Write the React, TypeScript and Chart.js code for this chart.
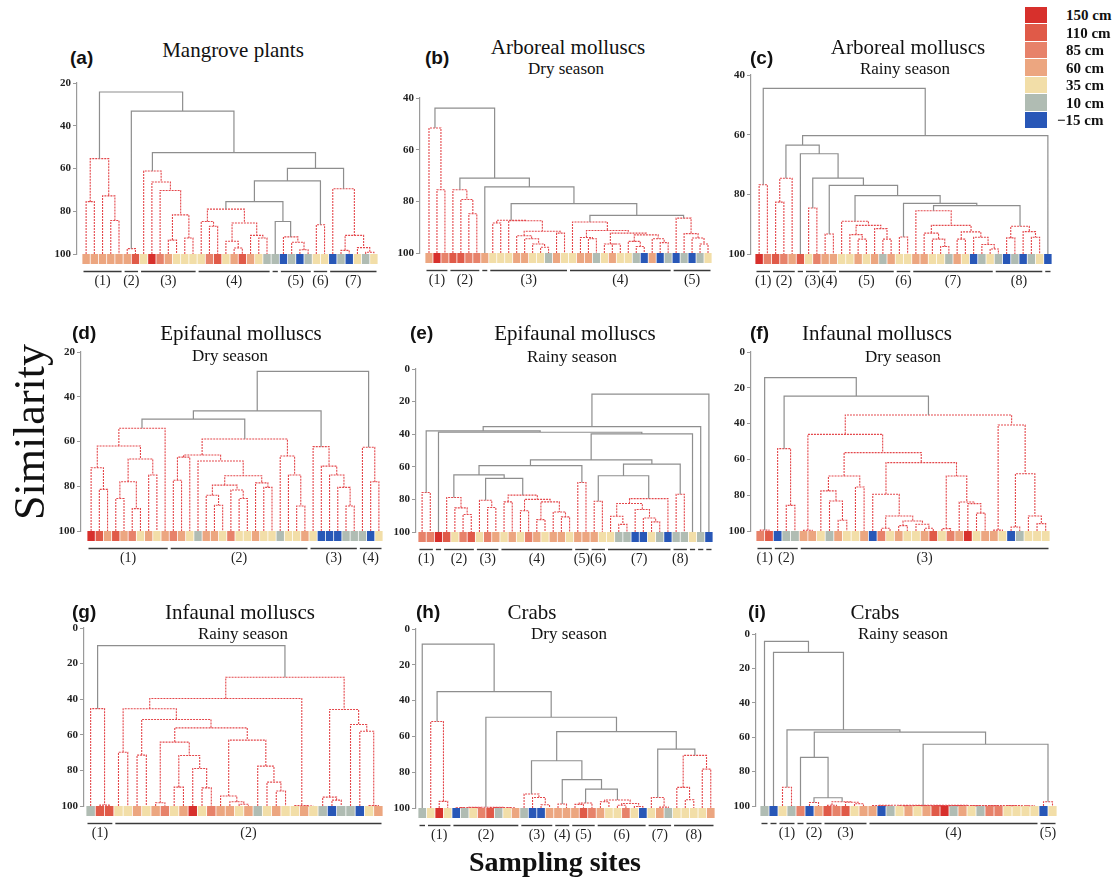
import React, { useEffect, useRef } from 'react';
import { Chart, registerables } from 'chart.js';

Chart.register(...registerables);

const R = 1;
const G = 0;

const legendLabels = ['150 cm', '110 cm', '85 cm', '60 cm', '35 cm', '10 cm', '\u221215 cm'];
const legendColors = ['#d7302c', '#e05a48', '#e7826a', '#eca680', '#f2dea8', '#b0bcb3', '#2857b7'];

const tickMinA = 20, tickMinB = 40, tickMinC = 40, tickMinD = 20, tickMinE = 0, tickMinF = 0, tickMinG = 0, tickMinH = 0, tickMinI = 0;

// (a) Mangrove plants
const leavesA = [3,3,3,3,3,3,1,4,0,2,3,4,4,4,4,2,1,4,3,1,3,4,5,5,6,5,6,5,4,4,6,5,6,4,5,4];
const treeA = [24.2, G,
  [55.4, R, [75.5, R, 1, 2], [72.8, R, 3, [84.3, R, 4, 5]]],
  [33.2, G, [97.5, R, 6, 7],
    [52.6, G,
      [61.2, R, 8, [66.3, R, 9, [70.3, R, 10, [81.7, R, [93.5, R, 11, 12], [92.5, R, 13, 14]]]]],
      [59.9, G,
        [65.8, G,
          [75.5, G,
            [79, R, [84.8, R, 15, [87, R, 16, 17]], [85.5, R, [94, R, 18, [97.2, R, 19, 20]], [91.3, R, 21, [92.5, R, 22, 23]]]],
            [84.8, G, 24, [92, R, 25, [94.5, R, 26, [98, R, 27, 28]]]]],
          [86.3, R, 29, 30]],
        [69.5, R, 31, [91.3, R, [98.3, R, 32, 33], [97, R, 34, [99.2, R, 35, 36]]]]]]]];
const groupsA = [[1,5,'(1)'],[6,7,'(2)'],[8,14,'(3)'],[15,23,'(4)'],[24,24,''],[25,28,'(5)'],[29,30,'(6)'],[31,36,'(7)']];

// (b) Arboreal molluscs, dry season
const leavesB = [3,0,2,1,1,2,2,3, 4,4,4,3,3,4,4,5,3,4, 4,3,3,5,4,3,4,4,5,6,3,6,5, 6,5,6,5,4];
const treeB = [43.9, G,
  [51.6, R, 1, [75.5, R, 2, 3]],
  [71, G,
    [75.5, R, 4, [79.3, R, 5, [84.8, R, 6, 7]]],
    [74.4, G, 8,
      [80.9, G,
        [87.3, R, [88.4, R, 9, 10], [87.5, R, 11, [91.6, R, [93.3, R, 12, [94.5, R, 13, [96.5, R, 14, [97.8, R, 15, 16]]]], [92.3, R, 17, 18]]]],
        [85.4, G,
          [88, R, 19, [91.3, R, [94, R, 20, [94.5, R, 21, 22]], [92.3, R, [96.5, R, 23, [96.5, R, 24, 25]], [93, R, [95.5, R, 26, [97.5, R, 27, 28]], [94.5, R, 29, [96, R, 30, 31]]]]]],
          [86.5, R, 32, [92.5, R, 33, [94.2, R, 34, [96.5, R, 35, 36]]]]]]]]];
const groupsB = [[1,3,'(1)'],[4,7,'(2)'],[8,8,''],[9,18,'(3)'],[19,31,'(4)'],[32,36,'(5)']];

// (c) Arboreal molluscs, rainy season
const leavesC = [0,2,1,2,3,1,4,2,3,3,4,4,3,4,3,5,3,4,4,3,3,4,4,5,3,4,6,5,4,5,6,5,6,5,4,6];
const treeC = [44.5, G,
  [76.8, R, 1, 2],
  [60.3, G,
    [63.5, G,
      [74.6, R, [82.6, R, 3, 4], 5],
      [66.4, G, 6,
        [74.6, G,
          [84.6, R, 7, 8],
          [77, G,
            [93.3, R, 9, 10],
            [80.4, G,
              [89, R, 11, [90.4, R, [93.5, R, 12, [95, R, 13, 14]], [91.5, R, 15, [95, R, 16, 17]]]],
              [83, G,
                [94.3, R, 18, 19],
                [83.8, G,
                  [85.5, R, 20, [90.4, R, [93, R, 21, [95, R, 22, [97.5, R, 23, 24]]], [92.6, R, [95, R, 25, 26], [94.4, R, 27, [96.8, R, 28, [98.3, R, 29, 30]]]]]],
                  [90.7, R, [94.6, R, 31, 32], [92.5, R, 33, [94.4, R, 34, 35]]]]]]]]]],
    36]];
const groupsC = [[1,2,'(1)'],[3,5,'(2)'],[6,6,''],[7,8,'(3)'],[9,10,'(4)'],[11,17,'(5)'],[18,19,'(6)'],[20,29,'(7)'],[30,35,'(8)'],[36,36,'']];

// (d) Epifaunal molluscs, dry season
const leavesD = [0,1,3,1,3,2,4,3,4,3, 2,3,4,5,3,3,4,2,4,4,3,4,4,5,4,4,3, 4,6,6,6,5,5, 5,6,4];
const treeD = [28.7, G,
  [46.3, G,
    [50, G,
      [54.1, R, [62, R, [71.7, R, 1, [81.4, R, 2, 3]], [67.8, R, [78, R, [85.5, R, 4, 5], [90, R, 6, 7]], [75, R, 8, 9]]], 10],
      [58.9, R,
        [66, R, [67, R, [77.3, R, 11, 12], 13], [68.7, R, 14, [75.3, R, [79.5, R, [84, R, 15, [88.5, R, 16, 17]], [81.7, R, 18, [85.5, R, 19, 20]]], [78.5, R, 21, [80.5, R, 22, 23]]]]],
        [66.5, R, 24, [75, R, 25, [88.8, R, 26, 27]]]]],
    [62.3, R, 28, [71, R, 29, [75, R, 30, [80.5, R, 31, [88.8, R, 32, 33]]]]]],
  [62.6, R, 34, [78, R, 35, 36]]];
const groupsD = [[1,10,'(1)'],[11,27,'(2)'],[28,33,'(3)'],[34,36,'(4)']];

// (e) Epifaunal molluscs, rainy season
const leavesE = [2,2,0,1,4,2,1,4,2,3, 4,3,4,2,3,4,3,3,4, 3,3, 3,4, 4,5,5,6,6,4,5,6, 5,5, 4,5,6];
const treeE = [15.4, G,
  [35.3, G,
    [38, G,
      [75.8, R, 1, 2],
      [38.8, G, 3,
        [39.8, G,
          [55.8, G,
            [59.3, G,
              [64.9, G,
                [78.8, R, 4, [85.2, R, 5, [89.3, R, 6, 7]]],
                [67.1, G,
                  [80.5, R, 8, [85, R, 9, 10]],
                  [77.4, R, [81.5, R, 11, 12], [80, R, [87, R, 13, 14], [81.5, R, [92.4, R, 15, 16], [87.7, R, 17, [90.7, R, 18, 19]]]]]]],
              [69.6, R, 20, 21]],
            [58.3, G,
              [65.5, G,
                [81.1, R, 22, 23],
                [79.5, R, [82.5, R, [90.3, R, 24, [95.3, R, 25, 26]], [86.2, R, 27, [91.4, R, 28, [93.8, R, 29, 30]]]], 31]],
              [76.8, R, 32, 33]]],
          34]]],
    35],
  36];
const groupsE = [[1,2,'(1)'],[3,3,''],[4,7,'(2)'],[8,10,'(3)'],[11,19,'(4)'],[20,21,'(5)'],[22,23,'(6)'],[24,31,'(7)'],[32,33,'(8)'],[34,34,''],[35,35,''],[36,36,'']];

// (f) Infaunal molluscs, dry season
const leavesF = [2,1,6,5,5,3,3,4,5,3,4,4,3,6,2,4,3,4,4,3,1,4,2,3,0,4,3,3,4,6,5,4,4,4];
const treeF = [14.3, G,
  [99.5, R, 1, 2],
  [24.6, G,
    [54, R, 3, [85.7, R, 4, 5]],
    [35.2, R,
      [46, R,
        [99.6, R, 6, 7],
        [56.2, R,
          [69.3, R, [77.6, R, 8, [83.2, R, 9, [94, R, 10, 11]]], [75.4, R, 12, 13]],
          [61.8, R,
            [79.5, R, 14, [91.6, R, [98.5, R, 15, 16], [94.4, R, [97, R, 17, 18], [96.2, R, 19, [98.5, R, 20, 21]]]]],
            [69.3, R, [98.7, R, 22, 23], [83.8, R, 24, [84.7, R, 25, [90, R, 26, 27]]]]]]],
      [40.8, R, [99.5, R, 28, 29], [68, R, [97.8, R, 30, 31], [91.6, R, 32, [95.9, R, 33, 34]]]]]]];
const groupsF = [[1,2,'(1)'],[3,5,'(2)'],[6,34,'(3)']];

// (g) Infaunal molluscs, rainy season
const leavesG = [5,1,1,4,4,3,4,3,2,4,3,0,4,2,3,3,4,3,5,4,3,4,4,3,4,5,6,5,5,6,4,3];
const treeG = [9.9, G,
  [45.3, R, 1, [99.5, R, 2, 3]],
  [27.7, R,
    [39.6, R,
      [45.4, R,
        [69.8, R, 4, 5],
        [51.4, R,
          [71.4, R, 6, 7],
          [56.1, R,
            [64.1, R, [98.2, R, 8, 9], [71.6, R, [89.4, R, 10, 11], [78.9, R, 12, [89.8, R, 13, 14]]]],
            [63, R, [94.4, R, 15, [97.6, R, 16, [99, R, 17, 18]]], [77.6, R, 19, [86.6, R, 20, [91.6, R, 21, 22]]]]]]],
      [99.8, R, 23, [100, R, 24, 25]]],
    [45.8, R,
      [95, R, 26, [96.7, R, 27, 28]],
      [54.2, R, 29, [58, R, 30, [99.8, R, 31, 32]]]]]];
const groupsG = [[1,3,'(1)'],[4,32,'(2)']];

// (h) Crabs, dry season
const leavesH = [5,4,0,4,6,5,4,2,1,5,4,3,5,6,6,3,3,3,3,1,2,3,4,4,2,4,6,4,3,5,4,4,4,4,3];
const treeH = [8.4, G, 1,
  [35, G,
    [51.7, R, 2, [96.3, R, 3, 4]],
    [49.3, G,
      [99.6, R, [99.8, R, [99.9, R, 5, 6], [99.9, R, 7, 8]], [99.8, R, [99.9, R, 9, 10], [99.9, R, 11, 12]]],
      [57.3, G,
        [73.6, G,
          [92.2, R, 13, [94.1, R, 14, [98.2, R, 15, 16]]],
          [84.2, G, [97.8, R, 17, 18], [89.4, G, [97.2, R, [98, R, 19, 20], 21], [95.5, R, [96.5, R, 22, 23], [97.5, R, [98.5, R, 24, 25], [99.2, R, 26, 27]]]]]],
        [67.1, G,
          [94.1, R, 28, [99.5, R, 29, 30]],
          [70.6, R, [88.5, R, 31, [95.4, R, 32, 33]], [78.3, R, 34, 35]]]]]]];
const groupsH = [[1,1,''],[2,4,'(1)'],[5,12,'(2)'],[13,16,'(3)'],[17,18,'(4)'],[19,21,'(5)'],[22,27,'(6)'],[28,30,'(7)'],[31,35,'(8)']];

// (i) Crabs, rainy season
const leavesI = [5,6,4,5,2,6,3,1,2,1,4,3,3,6,5,4,3,4,3,1,0,5,3,4,5,2,2,4,4,4,4,6,4];
const treeI = [4.3, G, 1,
  [10.7, G, 2,
    [55.7, G,
      [89.1, R, 3, 4],
      [57.1, G,
        [71.7, G, 5, [95.2, G, [98, R, 6, 7], [97.5, R, [99.6, R, 8, 9], [97.8, R, 10, [98.7, R, 11, 12]]]]],
        [64.1, G,
          [99.6, R, [99.8, R, 13, [99.9, R, 14, 15]],
            [99.7, R,
              [99.8, R, [99.9, R, [99.9, R, 16, 17], [99.9, R, 18, 19]], [99.9, R, [99.9, R, 20, 21], [99.9, R, 22, 23]]],
              [99.8, R, [99.9, R, [99.9, R, 24, 25], [99.9, R, 26, 27]], [99.9, R, [99.9, R, 28, 29], [99.9, R, 30, 31]]]]],
          [97.5, R, 32, 33]]]]]];
const groupsI = [[1,1,''],[2,2,''],[3,4,'(1)'],[5,5,''],[6,7,'(2)'],[8,12,'(3)'],[13,31,'(4)'],[32,33,'(5)']];

// layout of each panel (pixels): axis x, pixel of top tick, pixel of 100, leaf strip left/right
const panels = [
  { key: 'a', tree: treeA, leaves: leavesA, groups: groupsA, tickMin: tickMinA, axisX: 77, yTop: 83, yBot: 254, leafL: 82, leafR: 378,
    letter: '(a)', lx: 70, ly: 58, title: 'Mangrove plants', tx: 233, ty: 50, sub: '', sx: 0, sy: 0 },
  { key: 'b', tree: treeB, leaves: leavesB, groups: groupsB, tickMin: tickMinB, axisX: 420, yTop: 98, yBot: 253, leafL: 425, leafR: 712,
    letter: '(b)', lx: 425, ly: 58, title: 'Arboreal molluscs', tx: 568, ty: 47, sub: 'Dry season', sx: 566, sy: 68 },
  { key: 'c', tree: treeC, leaves: leavesC, groups: groupsC, tickMin: tickMinC, axisX: 751, yTop: 75, yBot: 254, leafL: 755, leafR: 1052,
    letter: '(c)', lx: 750, ly: 58, title: 'Arboreal molluscs', tx: 908, ty: 47, sub: 'Rainy season', sx: 905, sy: 68 },
  { key: 'd', tree: treeD, leaves: leavesD, groups: groupsD, tickMin: tickMinD, axisX: 81, yTop: 352, yBot: 531, leafL: 87, leafR: 383,
    letter: '(d)', lx: 72, ly: 333, title: 'Epifaunal molluscs', tx: 241, ty: 333, sub: 'Dry season', sx: 230, sy: 355 },
  { key: 'e', tree: treeE, leaves: leavesE, groups: groupsE, tickMin: tickMinE, axisX: 416, yTop: 369, yBot: 532, leafL: 418, leafR: 713,
    letter: '(e)', lx: 410, ly: 333, title: 'Epifaunal molluscs', tx: 575, ty: 333, sub: 'Rainy season', sx: 572, sy: 356 },
  { key: 'f', tree: treeF, leaves: leavesF, groups: groupsF, tickMin: tickMinF, axisX: 751, yTop: 352, yBot: 531, leafL: 756, leafR: 1050,
    letter: '(f)', lx: 750, ly: 333, title: 'Infaunal molluscs', tx: 877, ty: 333, sub: 'Dry season', sx: 903, sy: 356 },
  { key: 'g', tree: treeG, leaves: leavesG, groups: groupsG, tickMin: tickMinG, axisX: 84, yTop: 628, yBot: 806, leafL: 86, leafR: 383,
    letter: '(g)', lx: 72, ly: 612, title: 'Infaunal molluscs', tx: 240, ty: 612, sub: 'Rainy season', sx: 243, sy: 633 },
  { key: 'h', tree: treeH, leaves: leavesH, groups: groupsH, tickMin: tickMinH, axisX: 416, yTop: 629, yBot: 808, leafL: 418, leafR: 715,
    letter: '(h)', lx: 416, ly: 612, title: 'Crabs', tx: 532, ty: 612, sub: 'Dry season', sx: 569, sy: 633 },
  { key: 'i', tree: treeI, leaves: leavesI, groups: groupsI, tickMin: tickMinI, axisX: 756, yTop: 634, yBot: 806, leafL: 760, leafR: 1057,
    letter: '(i)', lx: 748, ly: 612, title: 'Crabs', tx: 875, ty: 612, sub: 'Rainy season', sx: 903, sy: 633 },
];

const AX_W = 32;
const PAD_T = 10;
const PAD_B = 42;
const PAD_R = 4;
const SQ_H = 10;

type Node = number | any[];

function buildSegments(tree: Node) {
  const red: any[] = [];
  const gray: any[] = [];
  function walk(node: Node): { x: number; y: number } {
    if (typeof node === 'number') return { x: node - 1, y: 100 };
    const [h, c, l, r] = node as any[];
    const a = walk(l);
    const b = walk(r);
    const arr = c ? red : gray;
    arr.push({ x: a.x, y: a.y }, { x: a.x, y: h }, { x: b.x, y: h }, { x: b.x, y: b.y }, { x: b.x, y: null });
    return { x: (a.x + b.x) / 2, y: h };
  }
  walk(tree);
  return { red, gray };
}

function makePlugin(p: any) {
  return {
    id: 'dendro_' + p.key,
    afterDatasetsDraw(chart: any) {
      const { ctx } = chart;
      const xs = chart.scales.x;
      const ys = chart.scales.y;
      const top = ys.getPixelForValue(100);
      ctx.save();
      p.leaves.forEach((c: number, i: number) => {
        const l = xs.getPixelForValue(i - 0.5);
        const r = xs.getPixelForValue(i + 0.5);
        ctx.fillStyle = legendColors[c];
        ctx.fillRect(l + 0.4, top, r - l - 0.8, SQ_H);
      });
      const ly = top + SQ_H + 7.5;
      ctx.strokeStyle = '#3a3a3a';
      ctx.lineWidth = 1.4;
      ctx.fillStyle = '#222';
      ctx.font = '14px "Liberation Serif", "Times New Roman", serif';
      ctx.textAlign = 'center';
      ctx.textBaseline = 'middle';
      p.groups.forEach((g: any[]) => {
        const x0 = xs.getPixelForValue(g[0] - 1.5) + 1.5;
        const x1 = xs.getPixelForValue(g[1] - 0.5) - 1.5;
        ctx.beginPath();
        ctx.moveTo(x0, ly);
        ctx.lineTo(x1, ly);
        ctx.stroke();
        if (g[2]) ctx.fillText(g[2], (x0 + x1) / 2, ly + 9.5);
      });
      ctx.restore();
    },
  };
}

function Panel({ p }: { p: any }) {
  const ref = useRef<HTMLCanvasElement | null>(null);
  const width = AX_W + (p.leafR - p.axisX) + PAD_R;
  const height = PAD_T + (p.yBot - p.yTop) + PAD_B;
  useEffect(() => {
    if (!ref.current) return;
    const n = p.leaves.length;
    const w = (p.leafR - p.leafL) / n;
    const xMin = -0.5 - (p.leafL - p.axisX) / w;
    const { red, gray } = buildSegments(p.tree);
    const chart = new Chart(ref.current, {
      type: 'scatter',
      data: {
        datasets: [
          { data: gray, showLine: true, borderColor: '#8e8e8e', borderWidth: 1.2, pointRadius: 0, spanGaps: false, clip: false } as any,
          { data: red, showLine: true, borderColor: '#e4474b', borderWidth: 1.1, borderDash: [2, 1], pointRadius: 0, spanGaps: false, clip: false } as any,
        ],
      },
      options: {
        responsive: false,
        animation: false,
        devicePixelRatio: 1,
        events: [],
        layout: { padding: { left: 0, right: PAD_R, top: PAD_T, bottom: PAD_B } },
        plugins: { legend: { display: false }, tooltip: { enabled: false }, title: { display: false } },
        scales: {
          x: { type: 'linear', display: false, min: xMin, max: n - 0.5 },
          y: {
            type: 'linear',
            reverse: true,
            min: p.tickMin,
            max: 100,
            afterFit: (s: any) => { s.width = AX_W; },
            ticks: { stepSize: 20, color: '#222', padding: 2, font: { family: '"Liberation Serif", "Times New Roman", serif', size: 11, weight: 'bold' } },
            grid: { display: true, drawOnChartArea: false, drawTicks: true, tickLength: 4, color: '#9a9a9a' },
            border: { display: true, color: '#9a9a9a', width: 1.2 },
          },
        },
      } as any,
      plugins: [makePlugin(p)],
    });
    return () => chart.destroy();
  }, []);
  return (
    <canvas
      ref={ref}
      width={width}
      height={height}
      style={{ position: 'absolute', left: p.axisX - AX_W, top: p.yTop - PAD_T, width, height, display: 'block' }}
    />
  );
}

const serif = '"Liberation Serif", "Times New Roman", serif';

function Txt({ x, y, children, style }: any) {
  return (
    <div style={{ position: 'absolute', left: x, top: y, transform: 'translate(-50%, -50%)', whiteSpace: 'nowrap', lineHeight: 1, ...style }}>
      {children}
    </div>
  );
}

export default function App() {
  return (
    <div style={{ position: 'absolute', left: 0, top: 0, width: 1118, height: 886, background: '#fff', overflow: 'hidden', color: '#111' }}>
      {panels.map((p) => (
        <React.Fragment key={p.key}>
          <Panel p={p} />
          <div style={{ position: 'absolute', left: p.lx, top: p.ly, transform: 'translateY(-50%)', lineHeight: 1, font: 'bold 19px "Liberation Sans", Arial, sans-serif', color: '#111' }}>{p.letter}</div>
          <Txt x={p.tx} y={p.ty} style={{ fontFamily: serif, fontSize: 21 }}>{p.title}</Txt>
          {p.sub ? <Txt x={p.sx} y={p.sy} style={{ fontFamily: serif, fontSize: 17 }}>{p.sub}</Txt> : null}
        </React.Fragment>
      ))}
      {legendLabels.map((l, i) => (
        <React.Fragment key={l}>
          <div style={{ position: 'absolute', left: 1025, top: 6.5 + 17.5 * i, width: 22, height: 16.5, background: legendColors[i] }} />
          <div style={{ position: 'absolute', left: i === 6 ? 1057 : 1066, top: 15 + 17.5 * i, transform: 'translateY(-50%)', lineHeight: 1, font: 'bold 15px ' + serif, whiteSpace: 'nowrap' }}>{l}</div>
        </React.Fragment>
      ))}
      <Txt x={30} y={432} style={{ fontFamily: serif, fontSize: 44, transform: 'translate(-50%, -50%) rotate(-90deg)' }}>Similarity</Txt>
      <Txt x={555} y={862} style={{ fontFamily: serif, fontSize: 28, fontWeight: 'bold' }}>Sampling sites</Txt>
    </div>
  );
}
